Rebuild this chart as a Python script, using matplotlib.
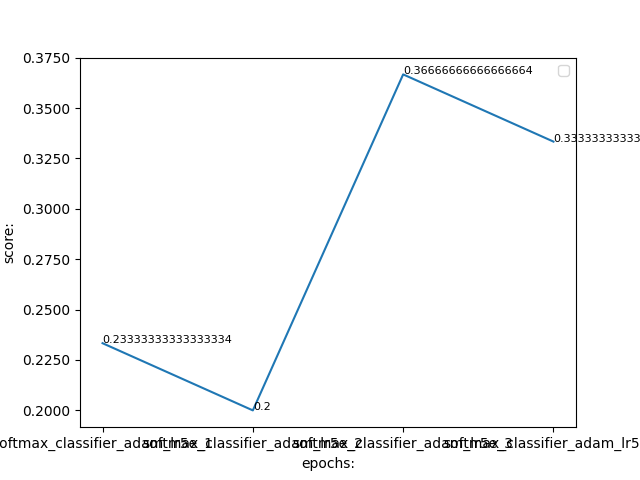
import matplotlib
matplotlib.use('Agg')
import matplotlib.pyplot as plt
from matplotlib.ticker import FormatStrFormatter

# Scores per run
epochs = ['softmax_classifier_adam_lr5e_1', 'softmax_classifier_adam_lr5e_2',
          'softmax_classifier_adam_lr5e_3', 'softmax_classifier_adam_lr5e_4']
scores = [0.23333333333333334, 0.2, 0.36666666666666664, 0.3333333333333333]

fig = plt.figure(figsize=(6.4, 4.8), dpi=100)
plt.plot(epochs, scores)
for x, y in zip(epochs, scores):
    plt.text(x, y, str(y), fontsize=8)
plt.xlabel('epochs:')
plt.ylabel('score:')
plt.gca().yaxis.set_major_formatter(FormatStrFormatter('%.4f'))
plt.legend()
plt.savefig('out.png')
